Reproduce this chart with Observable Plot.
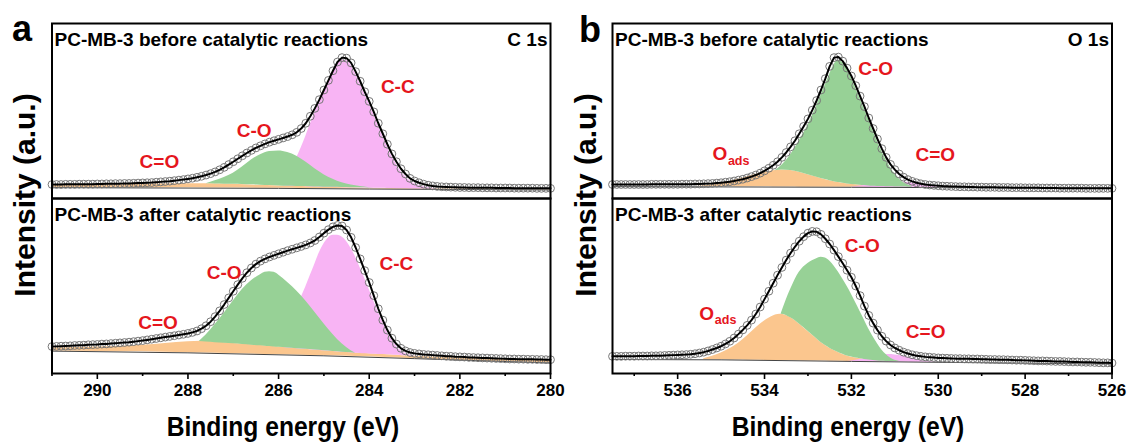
<!DOCTYPE html>
<html><head><meta charset="utf-8">
<script src="https://cdn.jsdelivr.net/npm/d3@7"></script>
<script src="https://cdn.jsdelivr.net/npm/@observablehq/plot@0.6"></script>
<style>
html,body{margin:0;padding:0;background:#fff;}
#wrap{position:relative;width:1131px;height:448px;overflow:hidden;font-family:"Liberation Sans",Arial,Helvetica,sans-serif;}
</style></head>
<body><div id="wrap"></div>
<script>
// ---------------- DATA ----------------
const STEP = 0.1;                 // eV spacing of measured points
const C1S_START = 291.0;          // first energy of C 1s spectra
const O1S_START = 537.5;          // first energy of O 1s spectra
const c1sDomain = [291, 280];
const o1sDomain = [537.5, 526];
const c1sTicks = [290, 288, 286, 284, 282, 280];
const c1sMinor = [291, 289, 287, 285, 283, 281];
const o1sTicks = [536, 534, 532, 530, 528, 526];
const o1sMinor = [537, 535, 533, 531, 529, 527];
const states = ["before", "after"];
const titles = ["PC-MB-3 before catalytic reactions", "PC-MB-3 after catalytic reactions"];
const c1sCore = "C 1s";
const o1sCore = "O 1s";

// measured spectra (intensity, a.u.)
const c1sBefore = [
 8.0,8.0,8.0,8.1,8.1,8.1,8.2,8.2,8.2,8.2,
 8.3,8.3,8.4,8.4,8.5,8.5,8.6,8.6,8.7,8.8,
 8.9,9.0,9.1,9.3,9.5,9.7,9.9,10.2,10.5,10.8,
 11.2,11.6,12.1,12.7,13.4,14.2,15.2,16.4,17.8,19.4,
 21.0,22.7,24.4,26.0,27.5,28.9,30.1,31.2,32.2,33.0,
 33.8,34.6,35.4,36.4,37.8,40.0,43.0,47.0,51.5,56.5,
 62.0,67.5,73.0,78.0,80.5,80.2,77.5,72.5,67.0,61.0,
 55.5,49.5,43.0,37.0,31.0,25.5,21.0,17.0,14.0,11.5,
 10.0,9.0,8.2,7.6,7.2,6.9,6.7,6.6,6.5,6.4,
 6.3,6.3,6.2,6.2,6.2,6.1,6.1,6.1,6.0,6.0,
 6.0,6.0,5.9,5.9,5.9,5.9,5.9,5.8,5.8,5.8,
 5.8];
const c1sAfter = [
 15.4,15.5,15.6,15.7,15.8,16.0,16.1,16.2,16.4,16.5,
 16.6,16.8,16.9,17.1,17.3,17.5,17.7,17.9,18.2,18.5,
 18.8,19.2,19.6,20.0,20.4,20.8,21.2,21.6,22.0,22.4,
 22.9,23.5,24.3,25.6,27.3,29.6,32.5,35.8,39.4,43.2,
 47.0,50.8,54.4,57.6,60.3,62.5,64.2,65.5,66.6,67.5,
 68.4,69.3,70.2,71.0,71.8,72.6,73.5,74.6,76.0,78.0,
 80.2,82.2,83.8,84.6,84.3,82.0,77.8,72.0,65.5,58.8,
 52.0,44.5,37.0,30.5,24.8,20.2,16.8,14.4,12.9,12.0,
 11.5,11.2,10.9,10.7,10.5,10.3,10.1,9.9,9.8,9.6,
 9.5,9.4,9.2,9.1,9.0,8.9,8.8,8.7,8.6,8.5,
 8.4,8.3,8.3,8.2,8.2,8.1,8.1,8.0,8.0,7.9,
 7.9];
const o1sBefore = [
 8.0,8.0,8.0,8.0,8.0,8.0,8.0,8.0,8.0,8.1,
 8.1,8.1,8.1,8.1,8.1,8.1,8.2,8.2,8.2,8.3,
 8.3,8.4,8.5,8.6,8.8,9.0,9.3,9.6,10.0,10.5,
 11.0,11.7,12.5,13.4,14.5,15.8,17.3,19.0,21.0,23.5,
 26.3,29.5,33.0,37.0,41.2,45.5,50.5,56.0,62.0,68.5,
 75.5,80.5,80.8,78.5,74.5,70.0,64.5,58.5,52.5,46.0,
 40.0,34.0,28.5,23.5,19.5,16.5,14.0,12.2,10.8,9.8,
 9.0,8.4,8.0,7.7,7.5,7.3,7.1,7.0,6.9,6.8,
 6.7,6.7,6.6,6.6,6.5,6.5,6.4,6.4,6.4,6.3,
 6.3,6.3,6.2,6.2,6.2,6.1,6.1,6.1,6.1,6.0,
 6.0,6.0,6.0,5.9,5.9,5.9,5.9,5.9,5.9,5.8,
 5.8,5.8,5.8,5.8,5.8,5.8];
const o1sAfter = [
 9.8,9.8,9.8,9.9,9.9,9.9,10.0,10.0,10.0,10.1,
 10.1,10.2,10.3,10.4,10.5,10.6,10.7,10.8,11.0,11.3,
 11.7,12.2,12.9,13.7,14.6,15.6,16.9,18.4,20.3,22.5,
 24.9,27.5,30.5,34.0,38.0,42.5,47.0,51.6,56.2,60.6,
 64.8,68.8,72.4,75.6,78.2,80.2,81.2,81.0,79.5,77.0,
 74.0,70.5,66.8,63.0,59.0,55.0,50.0,44.5,38.5,33.2,
 28.8,24.8,21.3,18.5,16.3,14.6,13.3,12.2,11.4,10.7,
 10.2,9.8,9.5,9.3,9.1,8.9,8.8,8.7,8.6,8.5,
 8.5,8.4,8.4,8.3,8.3,8.2,8.1,8.0,8.0,7.9,
 7.9,7.8,7.7,7.6,7.6,7.5,7.4,7.3,7.2,7.2,
 7.1,7.0,6.9,6.9,6.8,6.7,6.6,6.6,6.5,6.4,
 6.4,6.3,6.2,6.1,6.1,6.0];

// background (Shirley) lines: [eV, intensity]
const c1sBgBefore = [[291,6.2],[286,5.8],[284,5.4],[280,4.9]];
const c1sBgAfter  = [[291,12.8],[288,11.8],[285,10.1],[283,8.5],[280,6.0]];
const o1sBgBefore = [[537.5,6.8],[532,6.4],[526,5.9]];
const o1sBgAfter  = [[537.5,8.0],[535,7.8],[532,6.9],[526,5.4]];

// fitted components: [eV, lower, upper]
const c1sBeforeCdO = [[291,6.2,7.4],[290,6.2,7.7],[289,6.1,8.1],[288.3,6.1,8.5],[287.5,6.0,8.4],[287,6.0,8.1],[286.5,5.9,7.6],[286,5.8,7.2],[285.5,5.7,6.8],[285,5.6,6.5],[284.5,5.5,6.2],[284,5.4,5.9],[283,5.2,5.6],[282,5.1,5.4],[281,5.0,5.3],[280,4.9,5.2]];
const c1sBeforeCO = [[287.6,8.4,8.4],[287.4,8.3,10.2],[287.2,8.2,12.0],[287.0,8.1,14.5],[286.8,8.0,18.0],[286.6,7.8,22.0],[286.4,7.6,25.0],[286.2,7.4,26.8],[286.0,7.2,27.2],[285.8,7.0,26.3],[285.6,6.9,24.2],[285.4,6.8,20.8],[285.2,6.6,17.0],[285.0,6.5,13.6],[284.8,6.4,11.0],[284.6,6.3,9.0],[284.4,6.2,7.7],[284.2,6.1,6.8],[284.0,6.0,6.2],[283.8,5.9,5.9]];
const c1sBeforeCC = [[285.9,7.1,7.1],[285.8,7.0,12],[285.7,6.9,17.5],[285.62,6.9,22],[285.5,6.8,29],[285.4,6.7,35.5],[285.3,6.6,42.5],[285.2,6.6,49],[285.1,6.5,55],[285.0,6.5,60.5],[284.9,6.4,66.5],[284.8,6.3,72],[284.7,6.3,76.5],[284.6,6.2,79.2],[284.5,6.2,78.8],[284.4,6.1,76],[284.3,6.1,71],[284.2,6.0,65.5],[284.1,6.0,59.5],[284.0,5.9,54],[283.9,5.9,48],[283.8,5.8,41.5],[283.7,5.8,35.5],[283.6,5.7,29.5],[283.5,5.7,24],[283.4,5.6,19.5],[283.3,5.6,15.5],[283.2,5.6,12.5],[283.1,5.5,10],[283.0,5.5,8.5],[282.9,5.5,7.4],[282.8,5.4,6.7],[282.7,5.4,6.2],[282.6,5.4,5.9],[282.5,5.4,5.6]];

const c1sAfterCdO = [[291,12.8,14.6],[290,12.6,15.2],[289,12.4,16.2],[288.5,12.2,17.2],[288,11.9,18.1],[287.7,11.7,18.4],[287,11.3,17.2],[286,10.7,15.2],[285,10.1,13.0],[284.3,9.7,11.7],[283.5,9.0,10.6],[283,8.5,9.8],[282,7.5,8.8],[281,6.7,8.0],[280,6.0,7.3]];
const c1sAfterCO = [[287.75,18.3,18.3],[287.6,18.0,22],[287.4,17.6,28],[287.2,17.3,34.5],[287.0,17.0,41.5],[286.8,16.6,48],[286.6,16.2,53],[286.4,15.8,56.5],[286.3,15.6,57.8],[286.2,15.4,58.2],[286.1,15.2,57.8],[286.0,15.0,56.3],[285.8,14.6,52],[285.6,14.2,47.2],[285.4,13.8,41.5],[285.2,13.4,35],[285.0,13.0,28.5],[284.8,12.6,22.3],[284.6,12.2,17],[284.4,11.8,13],[284.3,11.6,11.6]];
const c1sAfterCC = [[285.9,14.8,14.8],[285.8,14.6,22],[285.7,14.4,30],[285.6,14.2,37.5],[285.5,14.0,43.5],[285.4,13.8,49.5],[285.3,13.6,56],[285.2,13.4,62.5],[285.1,13.2,69],[285.0,13.0,74],[284.9,12.8,77.5],[284.8,12.6,79],[284.7,12.4,79],[284.6,12.2,78],[284.5,12.0,75.5],[284.4,11.8,71.5],[284.3,11.6,66.5],[284.2,11.5,60.5],[284.1,11.3,54.5],[284.0,11.2,48],[283.9,11.0,41.5],[283.8,10.9,35],[283.7,10.8,29],[283.6,10.7,23.5],[283.5,10.6,19],[283.4,10.4,15.5],[283.3,10.3,13],[283.2,10.1,11.5],[283.1,10.0,10.6],[283.0,9.8,10.0],[282.9,9.7,9.7]];

const o1sBeforeOads = [[535.6,6.8,6.8],[535.4,6.8,7.3],[535.0,6.8,8.7],[534.6,6.7,11.0],[534.3,6.7,13.2],[534.0,6.7,15.0],[533.8,6.6,15.9],[533.6,6.6,16.3],[533.4,6.6,16.0],[533.2,6.5,15.0],[533.0,6.5,13.6],[532.7,6.5,11.5],[532.4,6.4,9.6],[532.2,6.4,8.7],[531.9,6.4,7.8],[531.6,6.3,7.2],[531.2,6.3,6.6]];
const o1sBeforeCO = [[533.75,15.9,16],[533.6,16.3,19],[533.4,16.0,25],[533.2,15.0,33],[533.0,13.6,42],[532.8,12.2,53],[532.6,10.8,65],[532.5,10.2,71],[532.4,9.6,76.5],[532.3,9.1,79],[532.2,8.7,77.5],[532.1,8.3,74],[532.0,8.0,69],[531.9,7.8,63],[531.8,7.6,57],[531.7,7.4,51],[531.6,7.2,45],[531.5,7.0,38.5],[531.4,6.9,32.5],[531.3,6.8,27],[531.2,6.7,22],[531.1,6.7,17.5],[531.0,6.6,14],[530.9,6.6,11.2],[530.8,6.6,9.2],[530.7,6.5,7.8],[530.6,6.5,6.9]];
const o1sBeforeCdO = [[532.0,6.4,6.6],[531.8,6.4,7.2],[531.6,6.3,7.9],[531.4,6.3,8.6],[531.2,6.3,9.2],[531.0,6.2,9.6],[530.8,6.2,9.5],[530.6,6.2,8.9],[530.4,6.1,8.0],[530.2,6.1,7.1],[530.0,6.1,6.5],[529.8,6.0,6.2]];

const o1sAfterOads = [[535.4,7.9,8.5],[535.2,7.8,9.8],[535.0,7.8,11.7],[534.8,7.7,14.2],[534.6,7.7,17.3],[534.4,7.6,21.5],[534.2,7.6,26.0],[534.0,7.5,30.0],[533.8,7.5,32.8],[533.65,7.4,33.8],[533.5,7.4,33.2],[533.3,7.3,30.3],[533.1,7.2,26.2],[532.9,7.2,22.0],[532.7,7.1,17.7],[532.5,7.0,14.5],[532.3,7.0,12.0],[532.1,6.9,10.0],[531.9,6.9,8.8],[531.7,6.8,8.0],[531.5,6.8,7.4],[531.3,6.7,7.0]];
const o1sAfterCO = [[533.62,33.8,33.8],[533.5,33.2,42],[533.4,31.8,48],[533.3,30.3,53.5],[533.2,28.3,57.8],[533.0,24.2,62.8],[532.8,19.8,65.6],[532.7,17.7,66.4],[532.6,16.0,66.0],[532.5,14.5,64.3],[532.4,13.2,61.5],[532.3,12.0,58.0],[532.2,11.0,54.0],[532.1,10.0,49.8],[532.0,9.4,45.3],[531.9,8.8,40.5],[531.8,8.4,35.5],[531.7,8.0,30.5],[531.6,7.7,25.5],[531.5,7.4,21.0],[531.4,7.2,17.0],[531.3,7.0,13.5],[531.2,6.9,10.8],[531.1,6.9,8.8],[531.0,6.8,7.6],[530.9,6.8,7.0]];
const o1sAfterCdO = [[532.1,6.8,6.9],[531.9,6.8,7.6],[531.7,6.7,8.5],[531.5,6.7,9.5],[531.3,6.7,10.4],[531.15,6.6,10.8],[531.0,6.6,10.6],[530.8,6.6,9.8],[530.6,6.5,8.6],[530.4,6.5,7.5],[530.2,6.5,6.8],[530.0,6.4,6.5]];

// peak labels: [state, eV, intensity, text, subscript]
const c1sLabels = [
 ["before",288.63,20.8,"C=O",""],["before",286.54,38.5,"C-O",""],["before",283.37,63.5,"C-C",""],
 ["after",288.66,29.0,"C=O",""],["after",287.2,57.4,"C-O",""],["after",283.4,62.6,"C-C",""]];
const o1sLabels = [
 ["before",535.2,25.4,"O","ads"],["before",531.44,74.0,"C-O",""],["before",530.07,25.0,"C=O",""],
 ["after",535.5,34.2,"O","ads"],["after",531.75,72.7,"C-O",""],["after",530.29,24.0,"C=O",""]];

// ---------------- STYLE ----------------
const FONT = '"Liberation Sans", Arial, Helvetica, sans-serif';
const ORANGE = "#fbc68e", GREEN = "#97d196", PINK = "#f8b4f4", RED = "#e5161d";

function spectrum(values, start, state) {
  return values.map((v, i) => ({state, e: +(start - i * STEP).toFixed(2), v}));
}
function comp(arr, state) { return arr.map(([e, lo, hi]) => ({state, e, lo, hi})); }
function bg(arr, state) { return arr.map(([e, v]) => ({state, e, v})); }

function panel(cfg) {
  const spec = [...spectrum(cfg.before, cfg.start, "before"), ...spectrum(cfg.after, cfg.start, "after")];
  const orange = [...comp(cfg.orange[0], "before"), ...comp(cfg.orange[1], "after")];
  const pink = [...comp(cfg.pink[0], "before"), ...comp(cfg.pink[1], "after")];
  const green = [...comp(cfg.green[0], "before"), ...comp(cfg.green[1], "after")];
  const bgl = [...bg(cfg.bg[0], "before"), ...bg(cfg.bg[1], "after")];
  const labels = cfg.labels.map(([state, e, v, t, sub]) => ({state, e, v, t, sub}));
  const main = labels.filter(d => !d.sub), sub = labels.filter(d => d.sub);
  const titleRows = states.map((s, i) => ({state: s, t: titles[i]}));
  const coreRows = [{state: "before", t: cfg.core}];
  const area = (data, fill) => Plot.areaY(data, {x: "e", y1: "lo", y2: "hi", fy: "state", fill, curve: "monotone-x"});
  return Plot.plot({
    width: cfg.width, height: 410,
    marginLeft: cfg.ml, marginRight: cfg.mr, marginTop: 22.5, marginBottom: 37.5,
    style: {fontFamily: FONT, fontWeight: "bold", fontSize: "17px", background: "transparent", overflow: "visible", color: "black"},
    x: {domain: cfg.domain, label: null},
    y: {domain: [0, 100], axis: null},
    fy: {domain: states, padding: 0, axis: null, label: null},
    marks: [
      area(orange, ORANGE),
      area(pink, PINK),
      area(green, GREEN),
      Plot.line(bgl, {x: "e", y: "v", fy: "state", stroke: "#444", strokeWidth: 1}),
      Plot.dot(spec, {x: "e", y: "v", fy: "state", r: 3.9, stroke: "#777", strokeWidth: 1, fill: "none"}),
      Plot.line(spec, {x: "e", y: "v", fy: "state", stroke: "black", strokeWidth: 2}),
      Plot.frame({stroke: "black", strokeWidth: 2}),
      Plot.axisX(cfg.ticks, {tickSize: 6, tickPadding: 4, strokeWidth: 1.6, facetAnchor: "bottom", label: null, fontSize: 17, fontWeight: "bold"}),
      Plot.axisX(cfg.minor, {tickSize: 3, tickFormat: () => "", strokeWidth: 1.6, facetAnchor: "bottom", label: null}),
      Plot.text(titleRows, {fy: "state", text: "t", frameAnchor: "top-left", dx: 2.5, dy: 8.5, lineAnchor: "top", textAnchor: "start", fontSize: 19, fontWeight: "bold", fill: "black"}),
      Plot.text(coreRows, {fy: "state", text: "t", frameAnchor: "top-right", dx: -3, dy: 8.5, lineAnchor: "top", textAnchor: "end", fontSize: 19, fontWeight: "bold", fill: "black"}),
      Plot.text(main, {x: "e", y: "v", fy: "state", text: "t", fill: RED, fontSize: 19, fontWeight: "bold", textAnchor: "middle", lineAnchor: "middle"}),
      Plot.text(sub, {x: "e", y: "v", fy: "state", text: "t", fill: RED, fontSize: 19, fontWeight: "bold", textAnchor: "start", lineAnchor: "middle"}),
      Plot.text(sub, {x: "e", y: "v", fy: "state", text: "sub", fill: RED, fontSize: 12.5, fontWeight: "bold", textAnchor: "start", lineAnchor: "middle", dx: 15.5, dy: 6.5})
    ]
  });
}

const wrap = document.getElementById("wrap");
function place(node, left) {
  node.style.position = "absolute"; node.style.left = left + "px"; node.style.top = "0px";
  wrap.appendChild(node);
}
place(panel({
  width: 570, ml: 51.5, mr: 20, start: C1S_START, domain: c1sDomain, ticks: c1sTicks, minor: c1sMinor,
  before: c1sBefore, after: c1sAfter, core: c1sCore,
  orange: [c1sBeforeCdO, c1sAfterCdO], pink: [c1sBeforeCC, c1sAfterCC], green: [c1sBeforeCO, c1sAfterCO],
  bg: [c1sBgBefore, c1sBgAfter], labels: c1sLabels
}), 0);
place(panel({
  width: 561, ml: 42, mr: 19.5, start: O1S_START, domain: o1sDomain, ticks: o1sTicks, minor: o1sMinor,
  before: o1sBefore, after: o1sAfter, core: o1sCore,
  orange: [o1sBeforeOads, o1sAfterOads], pink: [o1sBeforeCdO, o1sAfterCdO], green: [o1sBeforeCO, o1sAfterCO],
  bg: [o1sBgBefore, o1sBgAfter], labels: o1sLabels
}), 570);

// ---------------- overlay titles ----------------
const ov = d3.select(wrap).append("svg").attr("width", 1131).attr("height", 448)
  .style("position", "absolute").style("left", "0px").style("top", "0px")
  .style("font-family", FONT).style("font-weight", "bold");
const panelLetters = [["a", 12, 41], ["b", 579, 42]];
panelLetters.forEach(([t, x, y]) => ov.append("text").attr("x", x).attr("y", y).attr("font-size", 36).text(t));
const xTitle = "Binding energy (eV)", yTitle = "Intensity (a.u.)";
[283, 848].forEach(cx => ov.append("text").attr("transform", `translate(${cx},436) scale(0.88,1)`).attr("text-anchor", "middle").attr("font-size", 28).text(xTitle));
[35, 596].forEach(bx => ov.append("text").attr("transform", `translate(${bx},195) rotate(-90)`).attr("text-anchor", "middle").attr("font-size", 30).text(yTitle));
</script>
</body></html>
